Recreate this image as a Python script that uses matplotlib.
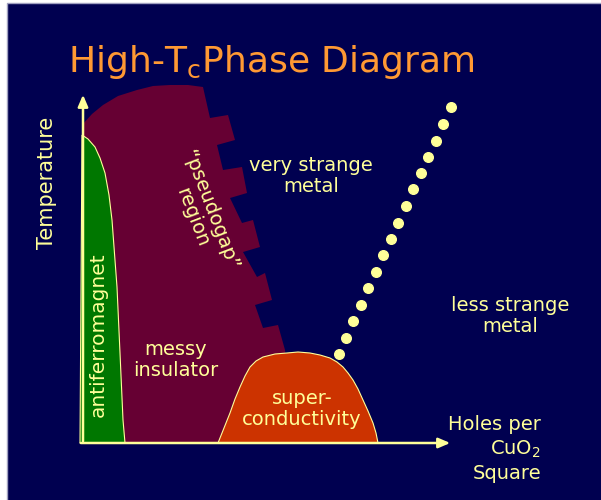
import matplotlib
matplotlib.use("Agg")
import matplotlib.pyplot as plt
from matplotlib.patches import Rectangle

# schematic outlines (x = doping, y = temperature, pixel-like units, y down)
afm_x = [80, 82, 88, 95, 100, 105, 109, 112, 117, 120, 123, 125, 80]
afm_y = [443, 135, 139, 147, 158, 173, 195, 220, 287, 353, 420, 443, 443]

pg_x = [82, 92, 103, 118, 137, 153, 170, 188, 203, 210, 228, 235, 217, 223, 242, 247, 230, 242,
        253, 260, 243, 257, 265, 272, 255, 263, 278, 285, 292, 82]
pg_y = [125, 114, 105, 96, 90, 86, 85, 85, 87, 118, 115, 140, 145, 170, 167, 193, 198, 223,
        220, 247, 252, 277, 273, 300, 305, 328, 325, 350, 443, 443]

sc_x = [218, 224, 230, 235, 240, 245, 250, 256, 263, 275, 287, 298, 310, 320, 330, 337, 343,
        348, 353, 358, 363, 368, 373, 376, 378]
sc_y = [443, 428, 413, 399, 387, 376, 367, 361, 357, 354, 353, 352, 353, 355, 358, 362, 367,
        373, 380, 389, 400, 411, 423, 433, 443]

# crossover line (dotted)
cross_x = [339, 346, 353, 361, 368, 376, 383, 391, 398, 406, 413, 421, 428, 436, 443, 451]
cross_y = [354, 338, 321, 305, 288, 272, 255, 239, 223, 206, 189, 173, 157, 141, 124, 107]

navy = "#000050"
maroon = "#660033"
green = "#007700"
orange = "#CC3300"
pale = "#FFFF99"
title_c = "#FF9933"

fig = plt.figure(figsize=(6.01, 5.0), dpi=100)
fig.patch.set_facecolor("white")
ax = fig.add_axes([0, 0, 1, 1])
ax.set_xlim(0, 601)
ax.set_ylim(500, 0)
ax.axis("off")

ax.add_patch(Rectangle((7, 3), 600, 500, facecolor=navy, edgecolor="#a0a0c0", lw=1))

ax.fill(pg_x, pg_y, color=maroon, lw=0)
ax.fill(afm_x, afm_y, facecolor=green, edgecolor=pale, lw=0.8)
ax.fill(sc_x, sc_y, facecolor=orange, edgecolor=pale, lw=0.8)
ax.scatter(cross_x, cross_y, s=48, color=pale, zorder=5)

# axes arrows
ax.annotate("", xy=(83, 92), xytext=(83, 444),
            arrowprops=dict(arrowstyle="-|>,head_length=0.7,head_width=0.3", color=pale, lw=1.8))
ax.annotate("", xy=(453, 443), xytext=(78, 443),
            arrowprops=dict(arrowstyle="-|>,head_length=0.7,head_width=0.3", color=pale, lw=1.8))

ax.text(68, 62, r"High-T$_\mathregular{c}$Phase Diagram", color=title_c, fontsize=26,
        ha="left", va="center")

ax.text(47, 183, "Temperature", color=pale, fontsize=15, rotation=90, ha="center", va="center")
ax.text(98, 335, "antiferromagnet", color=pale, fontsize=14.5, rotation=90, ha="center", va="center")
ax.text(201, 214, "\u201cpseudogap\u201d\nregion", color=pale, fontsize=14, rotation=-69,
        ha="center", va="center", linespacing=1.0)
ax.text(311, 176, "very strange\nmetal", color=pale, fontsize=14, ha="center", va="center",
        linespacing=1.15)
ax.text(510, 316, "less strange\nmetal", color=pale, fontsize=14, ha="center", va="center",
        linespacing=1.15)
ax.text(176, 360, "messy\ninsulator", color=pale, fontsize=14, ha="center", va="center",
        linespacing=1.15)
ax.text(302, 409, "super-\nconductivity", color=pale, fontsize=14, ha="center", va="center",
        linespacing=1.15)
ax.text(541, 449, "Holes per\nCuO$_2$\nSquare", color=pale, fontsize=14, ha="right", va="center",
        linespacing=1.3)

fig.savefig("out.png", dpi=100, facecolor=fig.get_facecolor())
